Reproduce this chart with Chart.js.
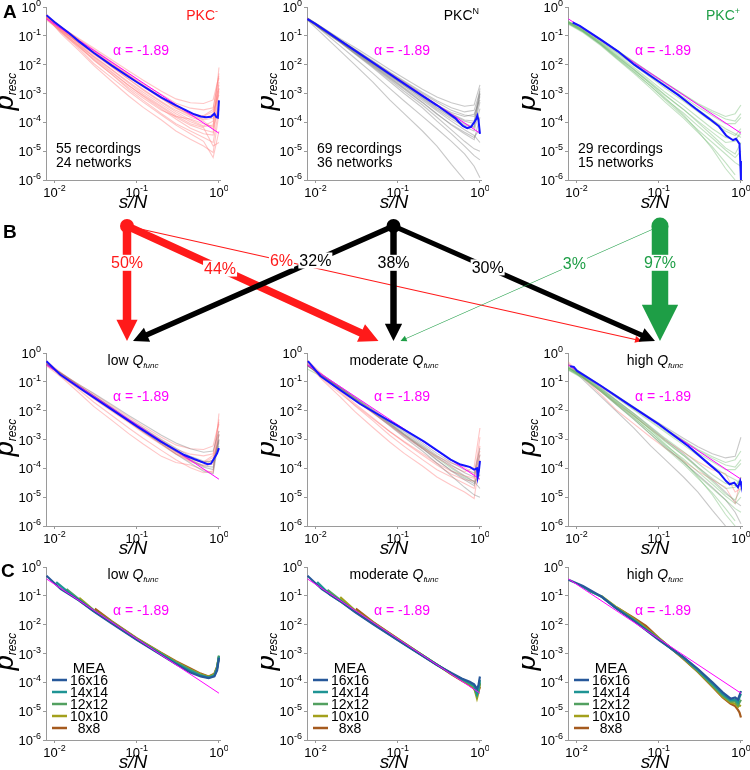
<!DOCTYPE html>
<html>
<head>
<meta charset="utf-8">
<title>p_resc vs s/N</title>
<script src="https://cdn.jsdelivr.net/npm/chart.js@4.4.1/dist/chart.umd.min.js"></script>
<style>
  body { margin: 0; background: #fff; }
  #fig { position: relative; width: 750px; height: 770px; overflow: hidden; font-family: "Liberation Sans", Arial, sans-serif; }
  #fig canvas { position: absolute; }
  .tag { position: absolute; font-weight: bold; font-size: 19px; line-height: 1; }
</style>
</head>
<body>
<div id="fig">
  <canvas id="a1" width="228" height="216" style="left:0;top:0"></canvas>
  <canvas id="a2" width="228" height="216" style="left:261px;top:0"></canvas>
  <canvas id="a3" width="228" height="216" style="left:522px;top:0"></canvas>
  <canvas id="b1" width="228" height="216" style="left:0;top:346px"></canvas>
  <canvas id="b2" width="228" height="216" style="left:261px;top:346px"></canvas>
  <canvas id="b3" width="228" height="216" style="left:522px;top:346px"></canvas>
  <canvas id="c1" width="228" height="216" style="left:0;top:560px"></canvas>
  <canvas id="c2" width="228" height="216" style="left:261px;top:560px"></canvas>
  <canvas id="c3" width="228" height="216" style="left:522px;top:560px"></canvas>
  <canvas id="flow" width="750" height="160" style="left:0;top:200px"></canvas>
  <div class="tag" style="left:3px;top:2px">A</div>
  <div class="tag" style="left:3px;top:222px">B</div>
  <div class="tag" style="left:1px;top:561px">C</div>
</div>
<script>
const FONT = '"Liberation Sans", Arial, sans-serif';

// axis ticks
const xTickValues = [0.01, 0.1, 1];
const yTickValues = [1, 0.1, 0.01, 0.001, 1e-4, 1e-5, 1e-6];

// power-law fit, alpha = -1.89
const alphaLabel = 'α = -1.89';
const fitLineX = [0.008, 1.0];
const fitLineY = [0.386, 4.2e-5];

// averages (blue)
const meanMinusX = [0.008, 0.01, 0.015, 0.02, 0.03, 0.05, 0.07, 0.1, 0.15, 0.2, 0.3, 0.4, 0.5, 0.6, 0.7, 0.8, 0.88, 0.93, 0.97, 1.0];
const meanMinusY = [0.52, 0.3, 0.125, 0.063, 0.026, 0.0093, 0.0049, 0.0025, 0.0012, 7.2e-4, 3.9e-4, 2.6e-4, 1.9e-4, 1.6e-4, 1.5e-4, 1.55e-4, 2.0e-4, 1.5e-4, 1.45e-4, 5.8e-4];
const meanNX = [0.008, 0.01, 0.02, 0.05, 0.1, 0.2, 0.3, 0.4, 0.5, 0.55, 0.62, 0.7, 0.78, 0.85, 0.9, 0.93, 0.96, 1.0];
const meanNY = [0.38, 0.26, 0.068, 0.0118, 0.0031, 8.3e-4, 3.9e-4, 2.2e-4, 1.4e-4, 1.05e-4, 7.5e-5, 6.3e-5, 7e-5, 1.0e-4, 1.3e-4, 1.7e-4, 1.2e-4, 4e-5];
const meanPlusX = [0.009, 0.011, 0.02, 0.032, 0.051, 0.1, 0.174, 0.28, 0.41, 0.54, 0.66, 0.8, 0.87, 0.96, 0.98, 1.0];
const meanPlusY = [0.29, 0.22, 0.072, 0.029, 0.0098, 2.6e-3, 8.8e-4, 3.0e-4, 1.35e-4, 7.3e-5, 3.5e-5, 2.4e-5, 2.7e-5, 1.8e-5, 4.6e-6, 1e-6];
const meanLowX = [0.008, 0.0117, 0.0226, 0.048, 0.1, 0.197, 0.38, 0.5, 0.61, 0.73, 0.8, 0.88, 0.95, 1.0];
const meanLowY = [0.52, 0.18, 0.049, 0.0118, 2.9e-3, 8.5e-4, 2.9e-4, 2.1e-4, 1.7e-4, 1.4e-4, 1.45e-4, 2.3e-4, 3.3e-4, 5e-4];
const meanModX = [0.0081, 0.0115, 0.018, 0.035, 0.098, 0.21, 0.44, 0.58, 0.68, 0.76, 0.85, 0.92, 0.94, 0.97, 1.0];
const meanModY = [0.52, 0.16, 0.064, 0.017, 3.1e-3, 8.4e-4, 2.0e-4, 1.35e-4, 1.2e-4, 1.1e-4, 9e-5, 1.0e-4, 5e-5, 8e-5, 1.8e-4];
const meanHighX = [0.0084, 0.0093, 0.0102, 0.0198, 0.0422, 0.1, 0.23, 0.41, 0.54, 0.66, 0.73, 0.83, 0.92, 0.98, 1.0];
const meanHighY = [0.35, 0.33, 0.24, 0.073, 0.0173, 3.4e-3, 5.8e-4, 1.4e-4, 7.2e-5, 3.6e-5, 2.8e-5, 3.2e-5, 2.2e-5, 3.6e-5, 2.8e-5];

// single recordings, sampled on a shared s/N grid
const recGrid = [0.008, 0.012, 0.02, 0.03, 0.05, 0.08, 0.12, 0.2, 0.3, 0.45, 0.65, 0.85, 1.0];
const recMinus = [
  [0.42, 0.2, 0.08, 0.038, 0.0145, 0.006, 0.0029, 0.0012, 6.5e-4, 4.8e-4, 4.5e-4, 6e-4, 4e-3],
  [0.5, 0.21, 0.072, 0.031, 0.0112, 0.0044, 0.002, 7.8e-4, 3.7e-4, 2.1e-4, 1.6e-4, 2.4e-4, 9e-4],
  [0.38, 0.16, 0.056, 0.023, 0.0082, 0.0031, 0.0013, 4.9e-4, 2.3e-4, 1.2e-4, 7.5e-5, 1.1e-4, 2.5e-3],
  [0.55, 0.19, 0.05, 0.018, 0.0056, 0.0019, 8e-4, 2.9e-4, 1.3e-4, 6.2e-5, 4e-5, 3.6e-5, 6e-4],
  [0.45, 0.12, 0.03, 0.0095, 0.0026, 8.2e-4, 3.3e-4, 1.2e-4, 5e-5, 2.6e-5, 1.5e-5, 9e-6, 2e-4],
  [0.5, 0.15, 0.041, 0.014, 0.0046, 0.0016, 7e-4, 2.6e-4, 1.6e-4, 1.3e-4, 9e-5, 7e-5, 8e-3],
  [0.35, 0.15, 0.06, 0.026, 0.0096, 0.0039, 0.0017, 6.6e-4, 3.1e-4, 1.7e-4, 1.2e-4, 1.4e-4, 1.5e-3],
  [0.48, 0.14, 0.035, 0.011, 0.0035, 0.0012, 5e-4, 1.8e-4, 8e-5, 4e-5, 2.2e-5, 6e-6, 5e-5],
  [0.42, 0.2, 0.075, 0.034, 0.0125, 0.0049, 0.0022, 9.2e-4, 4.6e-4, 3.1e-4, 2.7e-4, 3.2e-4, 3.5e-3],
  [0.47, 0.17, 0.058, 0.025, 0.0085, 0.0032, 0.0014, 5.3e-4, 2.6e-4, 1.5e-4, 1.1e-4, 6e-5, 4e-4],
  [0.4, 0.13, 0.04, 0.016, 0.0052, 0.0019, 8.5e-4, 3.3e-4, 1.5e-4, 8e-5, 5.5e-5, 4.5e-5, 1.2e-3],
  [0.52, 0.18, 0.062, 0.028, 0.01, 0.0041, 0.0019, 7.5e-4, 3.4e-4, 1.8e-4, 1.3e-4, 2e-4, 2e-3],
  [0.44, 0.17, 0.052, 0.02, 0.0068, 0.0025, 0.0011, 4.2e-4, 2e-4, 1.05e-4, 7e-5, 8e-5, 1.5e-3],
  [0.5, 0.16, 0.045, 0.015, 0.0045, 0.0014, 5.8e-4, 2e-4, 9e-5, 5e-5, 3e-5, 2e-5, 3e-4],
  [0.46, 0.19, 0.066, 0.029, 0.0105, 0.0042, 0.0018, 7e-4, 3.2e-4, 1.9e-4, 1.7e-4, 2.8e-4, 5e-3],
  [0.4, 0.14, 0.045, 0.019, 0.0065, 0.0023, 9.5e-4, 3.6e-4, 1.7e-4, 9e-5, 6.5e-5, 1.5e-5, 2e-5]
];
const recN = [
  [0.42, 0.2, 0.08, 0.04, 0.016, 0.0068, 0.0034, 0.0014, 7.5e-4, 4.8e-4, 3.6e-4, 4e-4, 2e-3],
  [0.38, 0.18, 0.07, 0.033, 0.0125, 0.005, 0.0024, 9e-4, 4.2e-4, 2e-4, 1.2e-4, 1.1e-4, 8e-4],
  [0.36, 0.17, 0.064, 0.029, 0.0105, 0.0041, 0.0018, 6.5e-4, 2.8e-4, 1.3e-4, 7e-5, 5e-5, 3e-4],
  [0.4, 0.18, 0.065, 0.028, 0.0095, 0.0035, 0.0015, 5e-4, 2e-4, 8e-5, 4e-5, 2.5e-5, 1.5e-4],
  [0.35, 0.12, 0.03, 0.01, 0.0025, 6e-4, 2e-4, 5e-5, 1.5e-5, 3.5e-6, 1e-6, null, null],
  [0.4, 0.15, 0.045, 0.017, 0.005, 0.0015, 5.5e-4, 1.6e-4, 6e-5, 2.2e-5, 8e-6, 3e-6, 1.2e-6],
  [0.42, 0.2, 0.072, 0.034, 0.013, 0.0053, 0.0025, 0.001, 5e-4, 2.6e-4, 1.8e-4, 1.6e-4, 1e-3],
  [0.37, 0.17, 0.066, 0.03, 0.011, 0.0044, 0.002, 7.5e-4, 3.3e-4, 1.6e-4, 9e-5, 7e-5, 5e-4],
  [0.39, 0.16, 0.058, 0.025, 0.0085, 0.003, 0.0012, 4e-4, 1.5e-4, 5.5e-5, 2.2e-5, 1.2e-5, 1e-5],
  [0.41, 0.19, 0.07, 0.032, 0.012, 0.0047, 0.0021, 8e-4, 3.8e-4, 1.9e-4, 1.1e-4, 9e-5, 1.5e-3],
  [0.36, 0.16, 0.061, 0.027, 0.0098, 0.0038, 0.0016, 5.8e-4, 2.5e-4, 1.1e-4, 5.5e-5, 3.5e-5, 2e-5],
  [0.39, 0.18, 0.068, 0.031, 0.0115, 0.0046, 0.0021, 8.2e-4, 3.9e-4, 2.2e-4, 1.6e-4, 1.9e-4, 6e-4],
  [0.4, 0.19, 0.074, 0.035, 0.0135, 0.0056, 0.0027, 0.0011, 5.6e-4, 3.2e-4, 2.3e-4, 2.6e-4, 1.2e-3],
  [0.37, 0.17, 0.062, 0.026, 0.009, 0.0033, 0.0014, 4.8e-4, 1.9e-4, 8.5e-5, 4.5e-5, 3e-5, 6e-5],
  [0.41, 0.18, 0.067, 0.03, 0.0108, 0.0043, 0.0019, 7e-4, 3.1e-4, 1.5e-4, 8e-5, 6.5e-5, 1e-3],
  [0.38, 0.17, 0.06, 0.024, 0.0078, 0.0026, 0.001, 3.2e-4, 1.1e-4, 4e-5, 1.5e-5, 7e-6, 5e-6]
];
const recPlus = [
  [0.3, 0.17, 0.07, 0.033, 0.0125, 0.005, 0.0023, 9e-4, 4.2e-4, 2.2e-4, 1.3e-4, 1.1e-4, 2e-4],
  [0.28, 0.15, 0.06, 0.027, 0.0095, 0.0036, 0.0015, 5.5e-4, 2.3e-4, 1e-4, 5e-5, 3.5e-5, 6e-5],
  [0.3, 0.16, 0.055, 0.022, 0.007, 0.0024, 9e-4, 2.8e-4, 1e-4, 3.5e-5, 1.3e-5, 8e-6, 2e-5],
  [0.25, 0.13, 0.045, 0.017, 0.005, 0.0015, 5e-4, 1.4e-4, 4.5e-5, 1.4e-5, 4e-6, 1.5e-6, null],
  [0.3, 0.15, 0.05, 0.02, 0.0065, 0.0022, 8.5e-4, 2.8e-4, 1.1e-4, 4.5e-5, 2e-5, 2.2e-5, 5e-5],
  [0.27, 0.14, 0.052, 0.021, 0.0068, 0.0021, 7e-4, 1.8e-4, 5e-5, 1.2e-5, 2.5e-6, 1e-6, null],
  [0.32, 0.18, 0.072, 0.034, 0.013, 0.0052, 0.0024, 9.5e-4, 4.5e-4, 2.5e-4, 1.6e-4, 2e-4, 4e-4],
  [0.29, 0.16, 0.063, 0.029, 0.0105, 0.0041, 0.0018, 6.5e-4, 2.8e-4, 1.2e-4, 6e-5, 4e-5, 3e-5],
  [0.26, 0.14, 0.05, 0.019, 0.0058, 0.0018, 6e-4, 1.6e-4, 5.5e-5, 2e-5, 8e-6, 4e-6, 3e-6],
  [0.31, 0.17, 0.067, 0.031, 0.0113, 0.0045, 0.002, 7.5e-4, 3.4e-4, 1.7e-4, 9e-5, 9e-5, 1.5e-4],
  [0.27, 0.14, 0.048, 0.018, 0.0055, 0.0018, 6.5e-4, 2.1e-4, 7.5e-5, 2.8e-5, 1.1e-5, 6e-6, 1e-5],
  [0.29, 0.15, 0.057, 0.024, 0.008, 0.0028, 0.0011, 3.8e-4, 1.5e-4, 6e-5, 3e-5, 2.5e-5, 4e-5]
];

// which recordings fall in each Q_func class
const lowRecMinus = [0, 1, 5, 6, 8, 11, 12, 14];
const lowRecN = [0, 1, 6, 9, 11, 14];
const modRecMinus = [2, 3, 4, 9, 10, 13];
const modRecN = [2, 3, 7, 8, 10, 13];
const modRecPlus = [1];
const highRecMinus = [7, 15];
const highRecN = [4, 5, 12, 15];
const highRecPlus = [0, 2, 3, 4, 5, 6, 7, 8, 9, 10, 11];

// transition percentages (from PKC-, PKCN, PKC+ to low / moderate / high)
const pctFromMinus = [50, 44, 6];
const pctFromN = [32, 38, 30];
const pctFromPlus = [0, 3, 97];

// MEA subsampling (panel C)
const meaSizes = ['16x16', '14x14', '12x12', '10x10', '8x8'];
const meaColors = ['#27589a', '#1f9494', '#52a060', '#a3a01c', '#a55a1e'];
const lowMeaX = [
  [0.008, 0.012, 0.02, 0.03, 0.05, 0.1, 0.2, 0.3, 0.45, 0.6, 0.75, 0.88, 0.95, 1.0],
  [0.0105, 0.015, 0.02, 0.03, 0.05, 0.1, 0.2, 0.3, 0.45, 0.6, 0.75, 0.88, 0.95, 1.0],
  [0.014, 0.02, 0.03, 0.05, 0.1, 0.2, 0.3, 0.45, 0.6, 0.75, 0.88, 0.95, 1.0],
  [0.02, 0.03, 0.05, 0.1, 0.2, 0.3, 0.45, 0.6, 0.75, 0.88, 0.95, 1.0],
  [0.031, 0.05, 0.1, 0.2, 0.3, 0.45, 0.6, 0.75, 0.88, 0.95, 1.0]
];
const lowMeaY = [
  [0.5, 0.17, 0.068, 0.029, 0.011, 3.0e-3, 8.8e-4, 4.3e-4, 2.2e-4, 1.6e-4, 1.4e-4, 1.6e-4, 2.6e-4, 7e-4],
  [0.3, 0.13, 0.07, 0.03, 0.0115, 3.1e-3, 9.2e-4, 4.6e-4, 2.5e-4, 1.7e-4, 1.45e-4, 1.7e-4, 3e-4, 8e-4],
  [0.17, 0.075, 0.031, 0.012, 3.2e-3, 9.6e-4, 4.9e-4, 2.7e-4, 1.8e-4, 1.5e-4, 1.8e-4, 3.2e-4, 8.5e-4],
  [0.085, 0.032, 0.0125, 3.3e-3, 1e-3, 5.1e-4, 2.8e-4, 1.9e-4, 1.55e-4, 1.9e-4, 3.3e-4, 8e-4],
  [0.036, 0.013, 3.4e-3, 1.05e-3, 5.4e-4, 3e-4, 2e-4, 1.6e-4, 2e-4, 3.5e-4, 7.5e-4]
];
const modMeaX = [
  [0.008, 0.012, 0.02, 0.03, 0.05, 0.1, 0.2, 0.3, 0.45, 0.6, 0.75, 0.85, 0.92, 0.96, 1.0],
  [0.0105, 0.015, 0.02, 0.03, 0.05, 0.1, 0.2, 0.3, 0.45, 0.6, 0.75, 0.85, 0.92, 0.96, 1.0],
  [0.014, 0.02, 0.03, 0.05, 0.1, 0.2, 0.3, 0.45, 0.6, 0.75, 0.85, 0.92, 0.96, 1.0],
  [0.02, 0.03, 0.05, 0.1, 0.2, 0.3, 0.45, 0.6, 0.75, 0.85, 0.92, 0.96, 1.0],
  [0.031, 0.05, 0.1, 0.2, 0.3, 0.45, 0.6, 0.75, 0.85, 0.92, 0.96, 1.0]
];
const modMeaY = [
  [0.5, 0.17, 0.065, 0.028, 0.0105, 2.9e-3, 8.3e-4, 4.0e-4, 2.1e-4, 1.35e-4, 1.05e-4, 8.5e-5, 6e-5, 8e-5, 1.6e-4],
  [0.3, 0.11, 0.066, 0.029, 0.011, 3.0e-3, 8.5e-4, 4.1e-4, 2.0e-4, 1.3e-4, 9.5e-5, 7.5e-5, 4e-5, 6e-5, 1.2e-4],
  [0.16, 0.072, 0.03, 0.0115, 3.1e-3, 8.6e-4, 4.1e-4, 2.0e-4, 1.25e-4, 9e-5, 7e-5, 3.5e-5, 5e-5, 1e-4],
  [0.09, 0.032, 0.012, 3.2e-3, 8.7e-4, 4.1e-4, 1.95e-4, 1.2e-4, 8.5e-5, 6.5e-5, 2.8e-5, 4.5e-5, 9e-5],
  [0.036, 0.0125, 3.3e-3, 8.8e-4, 4.1e-4, 1.9e-4, 1.15e-4, 8e-5, 6e-5, 4e-5, 5e-5, 7e-5]
];
const highMeaX = [
  [0.008, 0.012, 0.02, 0.03, 0.05, 0.1, 0.2, 0.3, 0.45, 0.6, 0.75, 0.85, 0.92, 0.96, 1.0],
  [0.0105, 0.015, 0.02, 0.03, 0.05, 0.1, 0.2, 0.3, 0.45, 0.6, 0.75, 0.85, 0.92, 0.96, 1.0],
  [0.014, 0.02, 0.03, 0.05, 0.1, 0.2, 0.3, 0.45, 0.6, 0.75, 0.85, 0.92, 0.96, 1.0],
  [0.02, 0.03, 0.05, 0.1, 0.2, 0.3, 0.45, 0.6, 0.75, 0.85, 0.92, 0.96, 1.0],
  [0.031, 0.05, 0.07, 0.1, 0.2, 0.3, 0.45, 0.6, 0.75, 0.85, 0.92, 0.96, 1.0]
];
const highMeaY = [
  [0.36, 0.22, 0.095, 0.038, 0.0135, 3.0e-3, 7.5e-4, 2.9e-4, 1.0e-4, 4.5e-5, 2.7e-5, 3e-5, 2.5e-5, 3.5e-5, 5e-5],
  [0.25, 0.14, 0.095, 0.038, 0.014, 3.1e-3, 7.2e-4, 2.7e-4, 9e-5, 4e-5, 2.4e-5, 2.5e-5, 2e-5, 3e-5, 4e-5],
  [0.15, 0.098, 0.04, 0.015, 3.3e-3, 7e-4, 2.5e-4, 8e-5, 3.5e-5, 2.2e-5, 2.2e-5, 1.6e-5, 2e-5, 2.5e-5],
  [0.1, 0.042, 0.016, 3.4e-3, 6.8e-4, 2.4e-4, 7.5e-5, 3.2e-5, 2e-5, 1.8e-5, 1.4e-5, 1.6e-5, 1.5e-5],
  [0.04, 0.017, 0.009, 3.5e-3, 6.5e-4, 2.3e-4, 7e-5, 3e-5, 1.8e-5, 1.5e-5, 1.1e-5, 9e-6, 6e-6]
];

const RED = '#ff1a1a', GREEN = '#1e9e46', BLUE = '#1414ff', MAGENTA = '#ff00ff';
const PINK_LINE = 'rgba(255,120,120,0.42)';
const GRAY_LINE = 'rgba(125,125,125,0.42)';
const GREEN_LINE = 'rgba(100,180,100,0.38)';

function xy(xs, ys) {
  return xs.map((x, i) => ({ x: x, y: ys[i] })).filter(p => p.y != null);
}

function fitSet() {
  return { data: xy(fitLineX, fitLineY), borderColor: MAGENTA, borderWidth: 1, order: 2 };
}
function meanSet(xs, ys) {
  return { data: xy(xs, ys), borderColor: BLUE, borderWidth: 2, order: 1 };
}
function recSets(rows, idx, color) {
  return idx.map(i => ({ data: xy(recGrid, rows[i]), borderColor: color, borderWidth: 1.1, order: 3 }));
}
function meaSets(xsList, ysList) {
  return xsList.map((xs, i) => ({
    data: xy(xs, ysList[i]), borderColor: meaColors[i], borderWidth: 2.2, order: 3 + i, meaLabel: meaSizes[i]
  }));
}

// text with mixed fonts (for sub/superscripts)
function textWidth(ctx, runs) {
  let w = 0;
  runs.forEach(r => { ctx.font = r.f + ' ' + FONT; w += ctx.measureText(r.t).width; });
  return w;
}
function drawRuns(ctx, runs, x, y, align) {
  const w = textWidth(ctx, runs);
  let cx = align === 'right' ? x - w : align === 'center' ? x - w / 2 : x;
  ctx.textAlign = 'left';
  ctx.textBaseline = 'alphabetic';
  runs.forEach(r => {
    ctx.font = r.f + ' ' + FONT;
    ctx.fillText(r.t, cx, y + (r.dy || 0));
    cx += ctx.measureText(r.t).width;
  });
}
function powerLabel(ctx, x, yMid, exp, align) {
  drawRuns(ctx, [{ t: '10', f: '13px' }, { t: String(exp), f: '9px', dy: -6 }], x, yMid + 5, align);
}

const panelText = {
  id: 'panelText',
  afterDraw(chart, args, o) {
    const ctx = chart.ctx, a = chart.chartArea;
    const sx = chart.scales.x, sy = chart.scales.y;
    ctx.save();
    ctx.fillStyle = '#000';
    yTickValues.forEach(v => powerLabel(ctx, a.left - 5, sy.getPixelForValue(v), Math.round(Math.log10(v)), 'right'));
    xTickValues.forEach(v => powerLabel(ctx, sx.getPixelForValue(v), a.bottom + 12, Math.round(Math.log10(v)), 'center'));
    // axis titles
    drawRuns(ctx, [{ t: 's/N', f: 'italic 19px' }], (a.left + a.right) / 2, a.bottom + 28, 'center');
    ctx.save();
    ctx.translate(a.left - 33, (a.top + a.bottom) / 2 - 2);
    ctx.rotate(-Math.PI / 2);
    drawRuns(ctx, [{ t: 'p', f: 'italic 27px' }, { t: 'resc', f: 'italic 12px', dy: 3 }], 0, 0, 'center');
    ctx.restore();

    ctx.fillStyle = MAGENTA;
    drawRuns(ctx, [{ t: alphaLabel, f: '14px' }], a.left + 67, a.top + 48, 'left');

    if (o.tag) {
      ctx.fillStyle = o.tag.color;
      drawRuns(ctx, [{ t: 'PKC', f: '14px' }, { t: o.tag.sup, f: '9px', dy: -6 }], a.right - 2, a.top + 13, 'right');
    }
    if (o.counts) {
      ctx.fillStyle = '#000';
      drawRuns(ctx, [{ t: o.counts[0], f: '14px' }], a.left + 10, a.top + 146, 'left');
      drawRuns(ctx, [{ t: o.counts[1], f: '14px' }], a.left + 10, a.top + 160, 'left');
    }
    if (o.title) {
      ctx.fillStyle = '#000';
      drawRuns(ctx, [{ t: o.title + ' ', f: '14px' }, { t: 'Q', f: 'italic 14px' }, { t: 'func', f: 'italic 8px', dy: 3 }],
        (a.left + a.right) / 2, a.top + 12, 'center');
    }
    if (o.legend) {
      ctx.fillStyle = '#000';
      const cx = a.left + 43;
      drawRuns(ctx, [{ t: 'MEA', f: '15px' }], cx, a.top + 106, 'center');
      chart.data.datasets.filter(d => d.meaLabel).forEach((d, i) => {
        const base = a.top + 118 + i * 12;
        ctx.strokeStyle = d.borderColor;
        ctx.lineWidth = 2.5;
        ctx.beginPath();
        ctx.moveTo(a.left + 6, base - 5);
        ctx.lineTo(a.left + 21, base - 5);
        ctx.stroke();
        ctx.fillStyle = '#000';
        drawRuns(ctx, [{ t: d.meaLabel, f: '14px' }], cx, base, 'center');
      });
    }
    ctx.restore();
  }
};

function logPanel(id, datasets, text) {
  const axisCommon = {
    type: 'logarithmic',
    grid: { display: true, drawOnChartArea: false, drawTicks: true, tickLength: 3, color: '#9a9a9a' },
    border: { display: true, color: '#9a9a9a', width: 1 },
    ticks: { display: false }
  };
  return new Chart(document.getElementById(id), {
    type: 'line',
    data: { datasets: datasets },
    options: {
      responsive: false,
      animation: false,
      devicePixelRatio: 1,
      layout: { padding: { top: 7, right: 8, left: 0, bottom: 0 } },
      elements: { point: { radius: 0 }, line: { tension: 0 } },
      plugins: { legend: { display: false }, tooltip: { enabled: false }, panelText: text },
      scales: {
        x: Object.assign({}, axisCommon, {
          min: 0.0079, max: 1.03,
          afterBuildTicks: s => { s.ticks = xTickValues.map(v => ({ value: v })); },
          afterFit: s => { s.height = 36; s.paddingLeft = 0; s.paddingRight = 0; }
        }),
        y: Object.assign({}, axisCommon, {
          min: 1e-6, max: 1,
          afterBuildTicks: s => { s.ticks = yTickValues.map(v => ({ value: v })); },
          afterFit: s => { s.width = 46; s.paddingTop = 0; s.paddingBottom = 0; }
        })
      }
    },
    plugins: [panelText]
  });
}

const allIdx = rows => rows.map((r, i) => i);

// row A
logPanel('a1', [meanSet(meanMinusX, meanMinusY), fitSet()].concat(recSets(recMinus, allIdx(recMinus), PINK_LINE)),
  { tag: { sup: '-', color: RED }, counts: ['55 recordings', '24 networks'] });
logPanel('a2', [meanSet(meanNX, meanNY), fitSet()].concat(recSets(recN, allIdx(recN), GRAY_LINE)),
  { tag: { sup: 'N', color: '#000' }, counts: ['69 recordings', '36 networks'] });
logPanel('a3', [meanSet(meanPlusX, meanPlusY), fitSet()].concat(recSets(recPlus, allIdx(recPlus), GREEN_LINE)),
  { tag: { sup: '+', color: GREEN }, counts: ['29 recordings', '15 networks'] });

// row B
logPanel('b1', [meanSet(meanLowX, meanLowY), fitSet()]
  .concat(recSets(recN, lowRecN, GRAY_LINE), recSets(recMinus, lowRecMinus, PINK_LINE)), { title: 'low' });
logPanel('b2', [meanSet(meanModX, meanModY), fitSet()]
  .concat(recSets(recN, modRecN, GRAY_LINE), recSets(recMinus, modRecMinus, PINK_LINE), recSets(recPlus, modRecPlus, GREEN_LINE)),
  { title: 'moderate' });
logPanel('b3', [meanSet(meanHighX, meanHighY), fitSet()]
  .concat(recSets(recPlus, highRecPlus, GREEN_LINE), recSets(recN, highRecN, GRAY_LINE), recSets(recMinus, highRecMinus, PINK_LINE)),
  { title: 'high' });

// row C
logPanel('c1', [fitSet()].concat(meaSets(lowMeaX, lowMeaY)), { title: 'low', legend: true });
logPanel('c2', [fitSet()].concat(meaSets(modMeaX, modMeaY)), { title: 'moderate', legend: true });
logPanel('c3', [fitSet()].concat(meaSets(highMeaX, highMeaY)), { title: 'high', legend: true });

// panel B: flows between PKC classes and Q_func classes
const flows = [pctFromMinus, pctFromN, pctFromPlus];
const sourceColors = [RED, '#000000', GREEN];
const tipShift = [[0, -15, -18], [6, 0, -5], [0, 7, 0]];
const labelT = [[0.32, 0.37, 0.30], [0.30, 0.32, 0.36], [0.32, 0.33, 0.32]];

function arrowGeom(x0, y0, x1, y1, pct) {
  const w = Math.max(0.6, pct * 0.17);
  const hw = 1.9 * w + 5, hl = hw;
  return { x0, y0, x1, y1, w, hw, hl };
}
function drawArrow(ctx, g, color) {
  const dx = g.x1 - g.x0, dy = g.y1 - g.y0, len = Math.hypot(dx, dy);
  const ux = dx / len, uy = dy / len, nx = -uy, ny = ux;
  const bx = g.x1 - ux * g.hl, by = g.y1 - uy * g.hl;
  ctx.fillStyle = color;
  ctx.beginPath();
  ctx.moveTo(g.x0 + nx * g.w / 2, g.y0 + ny * g.w / 2);
  ctx.lineTo(bx + nx * g.w / 2, by + ny * g.w / 2);
  ctx.lineTo(bx + nx * g.hw / 2, by + ny * g.hw / 2);
  ctx.lineTo(g.x1, g.y1);
  ctx.lineTo(bx - nx * g.hw / 2, by - ny * g.hw / 2);
  ctx.lineTo(bx - nx * g.w / 2, by - ny * g.w / 2);
  ctx.lineTo(g.x0 - nx * g.w / 2, g.y0 - ny * g.w / 2);
  ctx.closePath();
  ctx.fill();
}

const flowPlugin = {
  id: 'flowArrows',
  beforeDatasetsDraw(chart) {
    const ctx = chart.ctx, sx = chart.scales.x, sy = chart.scales.y;
    ctx.save();
    flows.forEach((row, s) => row.forEach((pct, t) => {
      if (!pct) return;
      const g = arrowGeom(sx.getPixelForValue(s), sy.getPixelForValue(1),
        sx.getPixelForValue(t) + tipShift[s][t], sy.getPixelForValue(0), pct);
      drawArrow(ctx, g, sourceColors[s]);
    }));
    ctx.restore();
  },
  afterDatasetsDraw(chart) {
    const ctx = chart.ctx, sx = chart.scales.x, sy = chart.scales.y;
    ctx.save();
    ctx.font = '16px ' + FONT;
    ctx.textAlign = 'center';
    ctx.textBaseline = 'middle';
    flows.forEach((row, s) => row.forEach((pct, t) => {
      if (!pct) return;
      const x0 = sx.getPixelForValue(s), y0 = sy.getPixelForValue(1);
      const x1 = sx.getPixelForValue(t) + tipShift[s][t], y1 = sy.getPixelForValue(0);
      const k = labelT[s][t];
      const lx = x0 + (x1 - x0) * k, ly = y0 + (y1 - y0) * k;
      const txt = pct + '%';
      const w = ctx.measureText(txt).width;
      ctx.fillStyle = '#fff';
      ctx.fillRect(lx - w / 2 - 1, ly - 8, w + 2, 16);
      ctx.fillStyle = sourceColors[s];
      ctx.fillText(txt, lx, ly + 1);
    }));
    ctx.restore();
  }
};

new Chart(document.getElementById('flow'), {
  type: 'scatter',
  data: {
    datasets: [{
      data: [{ x: 0, y: 1 }, { x: 1, y: 1 }, { x: 2, y: 1 }],
      pointRadius: [7, 7, 8.5],
      pointBackgroundColor: sourceColors,
      pointBorderWidth: 0,
      clip: false
    }]
  },
  options: {
    responsive: false,
    animation: false,
    devicePixelRatio: 1,
    layout: { padding: { left: 127, right: 90, top: 26, bottom: 19 } },
    plugins: { legend: { display: false }, tooltip: { enabled: false } },
    scales: {
      x: { type: 'linear', min: 0, max: 2, display: false },
      y: { type: 'linear', min: 0, max: 1, display: false }
    }
  },
  plugins: [flowPlugin]
});
</script>
</body>
</html>
